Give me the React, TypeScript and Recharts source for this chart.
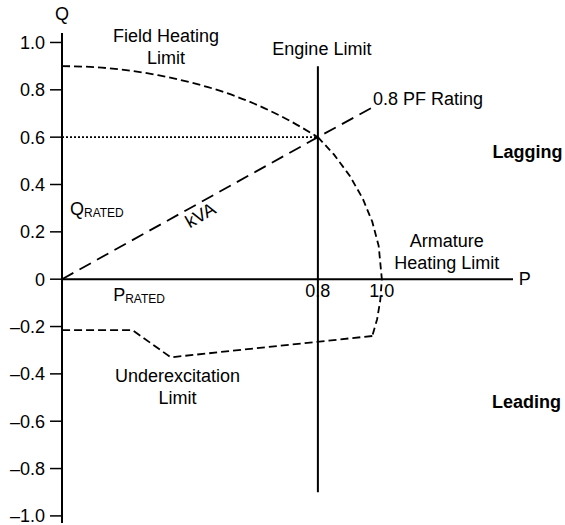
import React from 'react';
import { LineChart, Line, XAxis, YAxis, ReferenceLine, ReferenceDot } from 'recharts';

// Field heating limit (lagging, upper arc)
const fieldHeatingP = [0, 0.1, 0.2, 0.3, 0.4, 0.5, 0.6, 0.7, 0.8];
const fieldHeatingQ = [0.9, 0.896, 0.883, 0.862, 0.832, 0.793, 0.742, 0.678, 0.6];
// Armature heating limit (right arc, continues into leading region)
const armatureP = [0.8, 0.85, 0.9, 0.94, 0.97, 0.99, 1.0, 0.995, 0.985, 0.97];
const armatureQ = [0.6, 0.527, 0.436, 0.341, 0.243, 0.141, 0, -0.09, -0.17, -0.24];
// Underexcitation limit
const underexcitationP = [0.97, 0.34, 0.22, 0];
const underexcitationQ = [-0.24, -0.33, -0.215, -0.215];
// 0.8 PF rating (kVA) line
const kvaP = [0, 0.8, 0.97];
const kvaQ = [0, 0.6, 0.725];
// Engine limit
const engineP = [0.8, 0.8];
const engineQ = [0.9, -0.9];
// Rated Q dotted line
const qRatedP = [0, 0.8];
const qRatedQ = [0.6, 0.6];

const yTicks = [-1, -0.8, -0.6, -0.4, -0.2, 0, 0.2, 0.4, 0.6, 0.8, 1];
const xTickValues = [0.8, 1.0];
const xTickLabels = ['0.8', '1.0'];

const zip = (ps: number[], qs: number[]) => ps.map((p, i) => ({ p, q: qs[i] }));

const FONT = '"Liberation Sans", Arial, Helvetica, sans-serif';
const FS = 18;

function textLabel(
  key: string,
  p: number,
  q: number,
  lines: string[],
  anchor: 'start' | 'middle' | 'end' = 'middle',
  bold = false
) {
  return (
    <ReferenceDot
      key={key}
      x={p}
      y={q}
      r={0}
      ifOverflow="visible"
      stroke="none"
      fill="none"
      isFront
      label={(props: any) => {
        const vb = props.viewBox || {};
        const x = vb.x ?? 0;
        const y = vb.y ?? 0;
        return (
          <text
            x={x}
            y={y}
            textAnchor={anchor}
            fontFamily={FONT}
            fontSize={FS}
            fontWeight={bold ? 'bold' : 'normal'}
            fill="#000"
          >
            {lines.map((l, i) => (
              <tspan key={i} x={x} dy={i === 0 ? 0 : 22}>
                {l}
              </tspan>
            ))}
          </text>
        );
      }}
    />
  );
}

function subLabel(key: string, p: number, q: number, main: string, sub: string) {
  return (
    <ReferenceDot
      key={key}
      x={p}
      y={q}
      r={0}
      ifOverflow="visible"
      stroke="none"
      fill="none"
      isFront
      label={(props: any) => {
        const vb = props.viewBox || {};
        return (
          <text x={vb.x ?? 0} y={vb.y ?? 0} fontFamily={FONT} fontSize={FS} fill="#000">
            <tspan>{main}</tspan>
            <tspan fontSize={12} dy={2}>{sub}</tspan>
          </text>
        );
      }}
    />
  );
}

function rotLabel(key: string, p: number, q: number, txt: string, angle: number) {
  return (
    <ReferenceDot
      key={key}
      x={p}
      y={q}
      r={0}
      ifOverflow="visible"
      stroke="none"
      fill="none"
      isFront
      label={(props: any) => {
        const vb = props.viewBox || {};
        const x = vb.x ?? 0;
        const y = vb.y ?? 0;
        return (
          <text
            x={x}
            y={y}
            textAnchor="middle"
            dominantBaseline="central"
            transform={`rotate(${angle}, ${x}, ${y})`}
            fontFamily={FONT}
            fontSize={FS}
            fill="#000"
          >
            {txt}
          </text>
        );
      }}
    />
  );
}

const fmtY = (v: number) => {
  if (Math.abs(v) < 1e-9) return '0';
  return (v < 0 ? '\u2013' : '') + Math.abs(v).toFixed(1);
};

export default function App() {
  return (
    <div style={{ position: 'absolute', left: 0, top: 0, width: 565, height: 525, background: '#fff' }}>
      <LineChart
        width={565}
        height={525}
        margin={{ top: 33, right: 52, bottom: 2, left: 0 }}
      >
        <XAxis type="number" dataKey="p" domain={[0, 1.41]} hide allowDataOverflow />
        <YAxis
          type="number"
          dataKey="q"
          domain={[-1.03, 1.04]}
          ticks={yTicks}
          interval={0}
          allowDataOverflow
          width={62}
          tickFormatter={fmtY}
          tickSize={12}
          tickMargin={5}
          axisLine={{ stroke: '#000', strokeWidth: 2 }}
          tickLine={{ stroke: '#000', strokeWidth: 1.5 }}
          tick={{ fill: '#000', fontSize: FS, fontFamily: FONT }}
        />
        <ReferenceLine y={0} stroke="#000" strokeWidth={2} ifOverflow="visible" />
        <Line
          data={zip(engineP, engineQ)}
          dataKey="q"
          stroke="#000"
          strokeWidth={2}
          dot={false}
          isAnimationActive={false}
        />
        <Line
          data={zip(qRatedP, qRatedQ)}
          dataKey="q"
          stroke="#000"
          strokeWidth={1.6}
          strokeDasharray="2 2"
          dot={false}
          isAnimationActive={false}
        />
        <Line
          data={zip(kvaP, kvaQ)}
          dataKey="q"
          stroke="#000"
          strokeWidth={1.8}
          strokeDasharray="13 7"
          dot={false}
          isAnimationActive={false}
        />
        <Line
          data={zip(fieldHeatingP, fieldHeatingQ)}
          dataKey="q"
          type="monotone"
          stroke="#000"
          strokeWidth={1.8}
          strokeDasharray="8 4"
          dot={false}
          isAnimationActive={false}
        />
        <Line
          data={zip(armatureP, armatureQ)}
          dataKey="q"
          stroke="#000"
          strokeWidth={1.8}
          strokeDasharray="7 4"
          dot={false}
          isAnimationActive={false}
        />
        <Line
          data={zip(underexcitationP, underexcitationQ)}
          dataKey="q"
          stroke="#000"
          strokeWidth={1.8}
          strokeDasharray="8 4"
          dot={false}
          isAnimationActive={false}
        />
        {xTickValues.map((v, i) => textLabel('xt' + i, v, -0.076, [xTickLabels[i]]))}
        {textLabel('Q', 0, 1.095, ['Q'])}
        {textLabel('P', 1.447, -0.025, ['P'])}
        {textLabel('fh', 0.325, 1.002, ['Field Heating', 'Limit'])}
        {textLabel('eng', 0.8125, 0.947, ['Engine Limit'])}
        {textLabel('pf', 0.972, 0.736, ['0.8 PF Rating'], 'start')}
        {textLabel('lag', 1.455, 0.51, ['Lagging'], 'middle', true)}
        {textLabel('arm', 1.203, 0.137, ['Armature', 'Heating Limit'])}
        {textLabel('ue', 0.361, -0.434, ['Underexcitation', 'Limit'])}
        {textLabel('lead', 1.452, -0.545, ['Leading'], 'middle', true)}
        {subLabel('qr', 0.025, 0.27, 'Q', 'RATED')}
        {subLabel('pr', 0.16, -0.092, 'P', 'RATED')}
        {rotLabel('kva', 0.433, 0.27, 'kVA', -30)}
      </LineChart>
    </div>
  );
}
